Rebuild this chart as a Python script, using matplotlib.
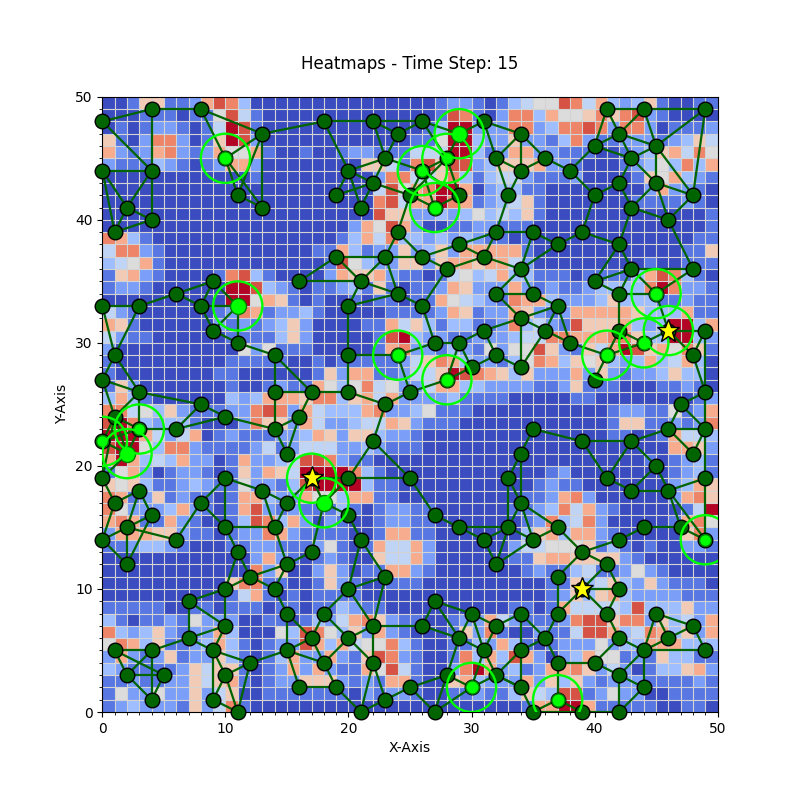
import matplotlib
matplotlib.use("Agg")
import matplotlib.pyplot as plt
import numpy as np
from matplotlib.patches import Circle

# heat levels as hex digits (A = 10), top row is y=49, left column is x=0
HEAT_ROWS = [
    "00166112798300000" "00000000001221013" "4559847323610011",
    "00011101159410000" "00000000001981028" "8375568689210000",
    "0101221014A910000" "00000000013AA2228" "8238898288201112",
    "6102882016A920000" "00000000115AA3226" "2213821122212364",
    "72127821275571001" "00122111444AA3127" "7221110012367485",
    "21113210127720000" "00006641896992366" "6722100012353837",
    "00000000000010000" "00000288446831344" "2111200001657321",
    "00000000000000000" "0000049578AA70233" "1100000000272210",
    "00000000000000000" "0000089477A871234" "6100000001111210",
    "00000000000000000" "00000966223235343" "6100000000000001",
    "00000000000000000" "00027597200112211" "1000000000000001",
    "87310000000000000" "00137483323232110" "1000000000000011",
    "48821000000000000" "11731226236277777" "1000000000000116",
    "34571000000000000" "01953226626776774" "2000000000100111",
    "16721000018931000" "02766721101453473" "3111011113798310",
    "1221000000AA93210" "11231610112762227" "21211233338A8221",
    "0000000000AA57610" "10010110117543218" "7732223633311211",
    "42100000012871223" "10000011112761227" "6212777776333711",
    "76100000021212362" "00001174631331128" "342196667323AA37",
    "42110000001111362" "0000019A322112223" "448877788633AA32",
    "20000000000525111" "00000178221321525" "59621647A9675861",
    "10000000001111100" "10111112468732213" "5873656323734730",
    "10000000011000000" "16277112446A98763" "6222726212236330",
    "16200000001001211" "75358452247733222" "2112611100011210",
    "37310000003237776" "88367472222311110" "0000110000000012",
    "88453621112289827" "43337822351110000" "0000000122115127",
    "9A832331000286627" "42234476211100000" "0000000166112128",
    "AAA74247012111223" "76266322100000000" "0000000110017443",
    "9AA53882111124124" "44223211100000000" "0000000000007762",
    "7A734372201722349" "98211000000000000" "0000000000101231",
    "1572012210162764A" "AAA83100000000000" "0012000000001231",
    "65631123211522139" "AAAA3110000000000" "0121100000002376",
    "87126121101773227" "55377110000000000" "1127820000002786",
    "85222372101792121" "11310122110000001" "123847210000014A",
    "78711721001398372" "02100122110000000" "1283482000001785",
    "27776621101228721" "11100177110000000" "3673772100000682",
    "11233210001122111" "25101744720000002" "4455561310100221",
    "00000000000027210" "12100644720000001" "1677666621000000",
    "00000000000082600" "26201177210000000" "1211341125210000",
    "00000000006881100" "16210011100000000" "0011634632621110",
    "00000000001471010" "11110000000000000" "0012636732222111",
    "11111001101110110" "11321100000000001" "1017444439333622",
    "31011215222001101" "32478621100122742" "1112899688263427",
    "83236212273000539" "85362721000162810" "0211499734873627",
    "58736112373101229" "73745583100113273" "1012225233777333",
    "27212612263101372" "27216982100183739" "7202375512163311",
    "32111126466101272" "7211759410028A723" "1277862420133672",
    "11211226467101226" "66212177100673222" "7263621222111121",
    "15225226246001111" "11102122100112113" "6439912522001111",
    "12322216248100000" "00000000000000000" "177AA71111100110",
]

EDGES = [
    (0,48,4,49),(4,49,8,49),(4,49,4,44),(0,48,4,44),(8,49,10,45),(8,49,13,47),(10,45,13,47),(10,45,11,42),
    (10,45,13,41),(11,42,13,41),(11,42,13,47),(13,47,13,41),(13,47,18,48),(0,44,4,44),(0,44,2,41),(0,44,1,39),
    (4,44,2,41),(4,44,4,40),(2,41,4,40),(2,41,1,39),(1,39,4,40),(0,33,3,33),(3,33,6,34),(6,34,9,35),(6,34,8,33),
    (9,35,8,33),(8,33,11,33),(9,35,11,33),
    (0,33,1,29),(3,33,1,29),(1,29,0,27),(1,29,3,26),(0,27,3,26),(3,26,8,25),(0,27,1,24),(3,26,3,23),(3,26,1,24),
    (3,23,6,23),(6,23,8,25),(6,23,10,24),(8,25,10,24),(10,24,14,23),(14,23,14,26),(14,26,14,29),(14,29,17,26),
    (14,26,17,26),(17,26,16,24),(16,24,14,23),(16,24,15,21),(14,23,15,21),(9,31,8,33),(9,31,11,30),(11,33,11,30),
    (11,33,9,31),(11,30,14,29),(0,22,1,24),(0,22,2,21),(0,22,3,23),(1,24,3,23),(1,24,2,21),(2,21,3,23),(0,19,2,21),
    (0,19,1,24),(0,19,0,22),(3,18,1,17),(1,17,0,19),(3,18,2,15),(3,18,4,16),(10,19,8,17),(10,19,10,15),(10,19,13,18),
    (13,18,15,17),(13,18,14,15),(15,17,17,19),
    (0,14,2,15),(0,14,2,12),(0,14,1,17),(2,15,4,16),(2,15,2,12),(2,15,6,14),(2,12,4,16),(6,14,8,17),(8,17,10,15),
    (10,15,14,15),(10,15,11,13),(11,13,12,11),(11,13,10,10),(12,11,10,10),(12,11,14,10),(12,11,15,12),(14,15,15,12),
    (14,15,15,17),(15,12,14,10),(15,12,17,13),(14,10,15,8),(10,10,7,9),(10,10,10,7),(7,9,7,6),(7,9,10,7),(7,6,10,7),
    (7,6,9,5),(7,6,4,5),(1,5,4,5),(1,5,2,3),(1,5,5,3),(4,5,2,3),(4,5,4,1),(2,3,5,3),(2,3,4,1),(4,1,5,3),(9,5,10,7),
    (9,5,12,4),(9,5,9,1),(9,5,10,3),(9,1,10,3),(10,3,12,4),(10,3,11,0),(9,1,11,0),(12,4,11,0),(15,8,15,5),(15,5,12,4),
    (15,5,17,6),(15,5,16,2),(15,5,18,4),(15,8,17,6),(16,2,19,2),
    (18,17,20,16),(20,16,21,14),(21,14,20,10),(21,14,23,11),(20,10,23,11),(23,11,22,7),(20,10,22,7),(20,10,18,8),
    (18,8,17,6),(20,6,18,8),(20,6,22,7),(20,6,18,4),(20,6,22,4),(22,7,22,4),(22,7,26,7),(26,7,27,9),(26,7,29,6),
    (27,9,29,6),(27,9,30,8),(30,8,29,6),(30,8,32,7),(30,8,31,5),(29,6,31,5),(29,6,28,3),(31,5,32,7),(31,5,30,2),
    (32,7,34,8),(32,3,30,2),(32,3,31,5),(32,3,34,2),(32,3,34,5),(28,3,30,2),(28,3,25,2),(28,3,27,0),(30,2,27,0),
    (25,2,23,1),(25,2,27,0),(23,1,22,4),(23,1,21,0),(22,4,21,0),(19,2,21,0),(19,2,18,4),(17,13,18,17),(18,4,17,6),
    (27,16,29,15),(29,15,31,14),(31,14,33,15),(31,14,32,12),(32,12,33,15),(29,15,33,15),(33,15,34,17),(33,15,33,19),
    (20,33,20,29),(20,29,20,26),(20,29,24,29),(24,29,27,30),(24,29,25,26),(25,26,23,25),(25,26,28,27),(23,25,20,26),
    (17,26,20,26),(23,25,22,22),(22,22,20,19),(22,22,25,19),(20,19,25,19),(25,19,27,16),(20,19,18,17),(20,19,17,19),
    (17,19,18,17),(28,27,29,30),(28,27,30,28),(29,30,30,28),(29,30,31,31),(27,30,29,30),(27,30,26,33),(31,31,32,29),
    (30,28,32,29),(32,29,34,28),(31,31,34,32),(33,19,34,21),(33,19,34,17),(34,21,34,17),
    (34,32,37,33),(34,32,36,31),(34,32,34,28),(36,31,37,33),(36,31,38,30),(36,31,34,28),(37,33,38,30),(38,30,41,29),
    (41,29,40,27),(41,29,44,30),(42,31,44,30),(44,30,46,31),(42,31,42,34),(46,31,49,31),(46,31,48,29),(49,31,48,29),
    (48,29,49,26),(49,31,49,26),(49,26,47,25),(47,25,46,23),(47,25,49,23),(46,23,49,23),(46,23,48,21),(49,23,48,21),
    (49,26,49,23),(49,23,49,19),(49,19,46,18),(45,20,46,18),(45,20,43,22),(45,20,43,18),(43,22,46,23),(43,22,39,22),
    (43,22,41,19),(39,22,35,23),(39,22,41,19),(41,19,43,18),(43,18,46,18),(35,23,34,21),(41,29,42,31),
    (34,47,34,44),(34,47,36,45),(34,44,36,45),(36,45,38,44),(38,44,40,46),(38,44,40,42),(40,46,41,49),(41,49,42,47),
    (41,49,44,49),(44,49,49,49),(44,49,42,47),(44,49,45,46),(42,47,40,46),(42,47,45,46),(42,47,43,45),(40,46,43,45),
    (43,45,45,46),(45,46,49,49),(49,49,48,42),(45,46,45,43),(45,46,48,42),(43,45,45,43),(43,45,42,43),(42,43,40,42),
    (42,43,43,41),(45,43,43,41),(45,43,48,42),(45,43,46,40),(48,42,46,40),(43,41,46,40),(43,41,42,38),(40,42,39,39),
    (39,39,37,38),(39,39,42,38),(37,38,35,39),(37,38,34,36),(35,39,34,36),(34,36,35,34),(35,34,37,33),(42,38,43,36),
    (42,38,40,35),(40,35,43,36),(40,35,42,34),(43,36,42,34),(43,36,48,36),(43,36,45,34),(42,34,45,34),(48,36,45,34),
    (48,36,46,40),(45,34,46,31),(35,39,32,39),(35,34,32,34),
    (18,48,22,48),(22,48,26,48),(18,48,20,44),(22,48,24,47),(22,48,23,45),(24,47,26,48),(24,47,23,45),(26,48,29,47),
    (26,48,28,45),(29,47,31,48),(29,47,28,45),(31,48,34,47),(31,48,32,45),(32,45,34,47),(32,45,34,44),(32,45,33,42),
    (34,44,33,42),(33,42,32,39),(32,39,29,38),(32,39,31,37),(29,38,31,37),(29,38,26,37),(25,42,24,39),(24,39,26,37),
    (24,39,23,37),(31,37,28,36),(31,37,34,36),(26,37,28,36),(28,36,26,33),(23,37,19,37),(23,37,26,37),(23,37,21,35),
    (23,37,24,34),(19,37,21,35),(19,37,16,35),(21,35,16,35),(21,35,24,34),(21,35,20,33),(24,34,26,33),(24,34,20,33),
    (32,34,34,36),(32,34,34,32),(20,44,23,45),(20,44,22,43),(20,44,19,42),(20,44,21,41),(23,45,22,43),(23,45,26,44),
    (22,43,19,42),(22,43,21,41),(22,43,25,42),(26,44,25,42),(26,44,28,45),(26,44,27,41),(26,44,29,42),(28,45,25,42),
    (25,42,27,41),(27,41,29,42),(28,45,29,42),
    (34,17,35,14),(33,15,35,14),(32,12,35,14),(35,14,37,15),(34,17,37,15),(37,15,39,13),(39,13,41,12),(39,13,42,14),
    (42,14,44,15),(44,15,47,15),(47,15,49,14),(49,14,49,19),(46,18,47,15),(46,18,49,14),(39,13,37,11),(37,11,37,8),
    (41,12,39,10),(41,12,42,10),(39,10,42,10),(39,10,41,8),(39,10,37,8),(42,10,41,8),(41,8,42,6),(42,6,44,5),(37,8,36,6),
    (36,6,34,8),(36,6,34,5),(36,6,37,4),(37,4,40,4),(37,4,37,1),(40,4,42,6),(40,4,42,3),(42,3,42,0),(42,3,44,2),(42,3,44,5),
    (44,5,44,2),(44,5,49,5),(44,5,45,8),(44,5,46,6),(45,8,46,6),(45,8,48,7),(46,6,48,7),(48,7,49,5),(42,0,44,2),(42,0,39,0),
    (39,0,37,1),(35,0,37,1),(35,0,34,2),(35,0,39,0),(34,5,34,2),(34,5,34,8),(34,2,32,3),
]

SMALL_GREEN = [(3,23),(0,22),(28,45),(26,44),(49,14)]
MID_GREEN = [(10,45),(27,41),(24,29),(28,27),(41,29),(44,30),(45,34),(30,2),(37,1)]
LARGE_GREEN = [(11,33),(29,47),(2,21),(18,17)]
STARS_RINGED = [(17,19),(46,31)]
STARS_PLAIN = [(39,10)]


def main() -> None:
    heat = np.array([[int(c, 16) / 10 for c in row] for row in HEAT_ROWS])[::-1]
    fig = plt.figure(figsize=(8, 8), dpi=100)
    ax = fig.add_axes([0.1275, 0.11, 0.77, 0.769])

    ax.pcolormesh(np.arange(51), np.arange(51), heat, cmap="coolwarm", vmin=0, vmax=1)
    ax.vlines(np.arange(1, 50), 0, 50, color="lightgray", linewidth=0.8, zorder=2)
    ax.hlines(np.arange(1, 50), 0, 50, color="lightgray", linewidth=0.8, zorder=2)

    for x1, y1, x2, y2 in EDGES:
        ax.plot([x1, x2], [y1, y2], color="darkgreen", linewidth=1.6, zorder=3, solid_capstyle="round")

    nodes = sorted({(e[0], e[1]) for e in EDGES} | {(e[2], e[3]) for e in EDGES})
    node_x, node_y = zip(*nodes)
    ax.plot(node_x, node_y, "o", color="darkgreen", markeredgecolor="black", markeredgewidth=1,
            markersize=10.5, zorder=4, clip_on=False)

    groups = [(SMALL_GREEN, 8.5), (MID_GREEN, 9.5), (LARGE_GREEN, 11.5)]
    for points, size in groups:
        xs, ys = zip(*points)
        ax.plot(xs, ys, "o", color="lime", markeredgecolor="green", markeredgewidth=1,
                markersize=size, zorder=5, clip_on=False)
        for point in points:
            ax.add_patch(Circle(point, 2, fill=False, edgecolor="lime", linewidth=1.7, zorder=6))

    for point in STARS_RINGED:
        ax.add_patch(Circle(point, 2, fill=False, edgecolor="lime", linewidth=1.7, zorder=6))
    star_x, star_y = zip(*(STARS_RINGED + STARS_PLAIN))
    ax.plot(star_x, star_y, "*", color="yellow", markeredgecolor="black", markeredgewidth=1,
            markersize=17, zorder=7, clip_on=False)

    ax.set_xlim(0, 50)
    ax.set_ylim(0, 50)
    ax.set_aspect("equal")
    ax.set_xticks(np.arange(0, 51, 10))
    ax.set_yticks(np.arange(0, 51, 10))
    ax.set_xticks(np.arange(0, 51, 1), minor=True)
    ax.set_yticks(np.arange(0, 51, 1), minor=True)
    ax.set_xlabel("X-Axis")
    ax.set_ylabel("Y-Axis")
    ax.set_title("Heatmaps - Time Step: 15", pad=20)

    fig.savefig("out.png", dpi=100)
    plt.close(fig)


if __name__ == "__main__":
    main()
